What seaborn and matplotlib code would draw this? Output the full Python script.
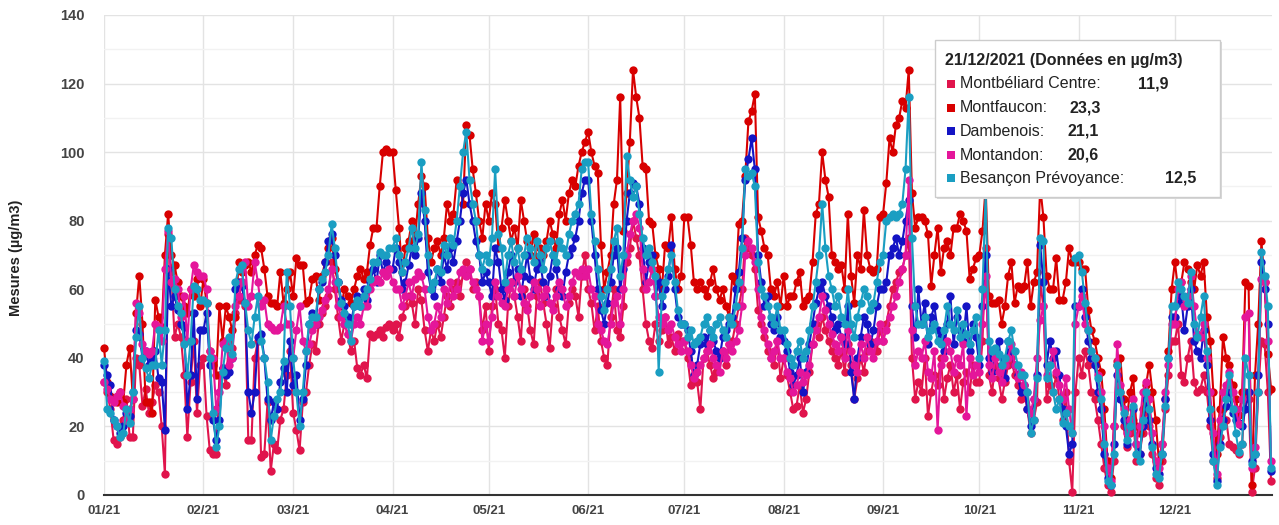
import matplotlib
matplotlib.use("Agg")
import matplotlib.pyplot as plt
import matplotlib.dates as mdates
from matplotlib.patches import Rectangle
from matplotlib.ticker import MultipleLocator
import pandas as pd
import seaborn as sns

# ---------------- data (daily means, µg/m3, 2021) ----------------
stations = ["Montbéliard Centre", "Montfaucon", "Dambenois", "Montandon", "Besançon Prévoyance"]
colors = ["#E0144C", "#D80000", "#1414C4", "#E4169A", "#1A9EC2"]
legend_date = "21/12/2021 (Données en µg/m3)"
legend_values = ["11,9", "23,3", "21,1", "20,6", "12,5"]
tick_labels_fmt = "%m/%y"

montbeliard = (
    [33,30,25,16,15,17,22,28,17,17,40,38,26,31,24,27,32,30,20,6,76,65,46,50,46,35,17,33,45,24,38]
    + [40,23,13,12,12,35,37,32,45,43,53,57,62,55,16,16,40,45,11,12,27,7,15,13,22,25,35,42]
    + [24,19,13,27,30,38,44,42,50,53,55,58,68,60,52,45,50,47,42,45,37,35,38,34,47,46,47,48,46,49,50]
    + [48,50,46,52,55,58,56,50,60,57,48,42,48,45,50,46,52,58,55,60,62,58,65,68,66,60,62,58,48,55]
    + [42,55,60,50,48,40,55,62,58,52,45,60,55,48,44,58,62,56,50,43,55,60,52,48,44,56,60,58,52,64,70]
    + [60,56,48,55,45,40,38,52,60,48,46,55,68,72,80,75,70,60,50,45,43,50,45,48,52,44,46,42,47,45]
    + [45,40,32,35,33,25,40,42,38,34,36,40,42,38,44,45,50,55,60,75,72,70,66,54,50,46,42,40,38,45,34]
    + [40,35,30,25,26,32,24,28,36,44,50,46,52,48,45,42,40,38,42,36,44,38,28,34,40,36,42,45,44,42,48]
    + [45,50,55,60,62,65,66,70,75,40,28,33,30,40,23,30,35,32,40,28,34,38,30,35,25,33,36,30,38,33]
    + [33,45,72,35,30,38,34,28,33,38,40,35,32,28,30,25,18,22,27,62,55,28,32,30,35,28,22,30,10,1,30]
    + [40,35,42,38,30,28,22,15,8,3,1,10,39,30,20,14,18,22,10,12,18,25,20,12,5,3,10,25,35,45]
    + [45,50,35,33,40,45,33,30,31,35,30,20,10,5,17,25,22,15,14,13,11.9,15,30,28,1,8,30,45,44,30,4]
)
montfaucon = (
    [43,33,29,28,27,30,27,38,43,28,53,64,50,27,27,24,57,52,49,70,82,70,67,62,58,55,53,60,58,63,55]
    + [63,56,42,38,35,55,45,55,52,48,52,68,65,67,68,65,70,73,72,66,58,56,56,55,65,56,60,65]
    + [58,69,67,67,56,57,63,64,57,64,68,72,75,66,62,55,60,58,56,60,64,66,63,65,73,78,78,90,100,101,100]
    + [100,89,78,65,72,74,80,75,85,93,90,75,68,72,74,70,75,85,80,82,92,90,85,108,105,95,88,80,75,85]
    + [80,88,85,72,78,86,80,74,78,72,86,80,74,70,76,68,72,70,74,80,76,72,82,86,80,88,92,90,96,100,103]
    + [106,100,96,94,73,60,65,70,85,92,116,77,88,103,124,116,110,96,95,80,79,70,66,60,73,72,81,66,60,64]
    + [81,81,73,62,60,62,60,58,62,66,60,57,60,55,52,64,62,79,80,93,109,112,117,81,77,72,70,60,58,62,55]
    + [64,55,58,58,62,65,55,57,58,68,82,85,100,92,87,70,68,66,67,60,82,64,56,70,66,83,70,66,65,66,81]
    + [82,91,104,100,108,110,115,113,124,88,78,81,81,80,76,61,70,78,65,72,74,70,78,78,82,80,77,63,66,69]
    + [70,77,90,58,56,56,57,50,55,64,68,56,61,60,61,68,55,62,65,90,81,64,60,60,69,57,57,62,72,68,68]
    + [68,66,66,54,48,45,40,36,25,10,5,20,38,40,28,22,30,34,20,18,25,32,38,30,22,10,15,28,42,60]
    + [68,60,62,68,66,62,60,67,64,68,52,45,30,12,25,46,40,38,32,28,23.3,30,62,61,3,35,50,74,62,41,31]
)
dambenois = (
    [38,35,32,22,20,18,20,24,23,30,48,47,40,42,38,40,42,34,33,19,66,55,58,54,50,49,25,35,53,28,48]
    + [48,53,38,22,16,22,37,35,36,40,60,62,61,56,30,24,30,46,47,40,28,22,27,25,33,37,30,45]
    + [32,35,22,28,38,50,53,50,60,62,68,74,76,70,62,57,55,52,50,55,58,55,60,57,62,66,62,70,65,68,66]
    + [66,72,68,60,62,67,72,70,75,88,80,65,60,58,66,62,70,66,72,68,74,80,88,92,85,80,74,70,62,65]
    + [62,58,72,68,60,57,65,70,62,66,58,64,70,63,60,66,68,62,58,64,70,66,60,58,65,70,72,75,80,88,92]
    + [92,80,70,60,54,50,56,62,70,72,60,66,80,88,91,90,85,72,62,68,70,58,62,55,60,64,73,60,52,50]
    + [50,48,42,35,38,44,46,44,48,45,42,40,46,48,50,52,60,65,75,92,98,104,95,70,62,55,58,50,48,52,46]
    + [45,42,36,32,35,40,30,36,44,50,56,60,62,58,55,52,48,50,46,44,55,36,28,40,46,52,50,44,48,55,60]
    + [60,62,70,72,75,70,74,80,86,55,46,60,50,56,44,52,55,48,46,42,50,58,44,52,48,45,55,42,50,46]
    + [38,55,70,40,36,42,45,38,34,45,42,38,35,30,32,25,20,28,35,73,62,38,45,40,42,35,25,20,12,15,55]
    + [55,60,52,45,40,38,30,25,12,5,3,15,35,28,22,15,20,25,15,12,20,28,22,15,8,6,12,28,40,52]
    + [52,56,58,48,55,60,45,42,40,48,38,22,12,4,15,22,26,30,24,22,21.1,20,25,30,10,12,35,68,60,50,7]
)
montandon = (
    [33,31,28,27,29,30,26,22,25,28,56,53,44,42,41,42,50,49,45,66,77,62,63,60,52,58,45,60,67,65,64]
    + [64,60,42,40,25,30,44,45,38,40,55,58,62,68,55,58,68,62,55,57,50,49,48,48,49,55,50,50]
    + [40,48,55,45,42,44,48,50,52,54,57,60,66,62,55,52,50,47,45,50,52,50,55,55,60,62,63,62,65,64,66]
    + [62,60,60,55,58,62,58,63,65,64,60,52,48,50,55,52,60,56,62,58,60,65,66,64,66,62,60,58,45,50]
    + [45,52,62,58,56,55,60,62,58,64,60,56,54,58,62,60,55,58,60,56,54,58,62,60,55,58,62,65,64,66,64]
    + [66,60,58,50,48,45,44,50,56,58,50,60,70,76,80,82,78,66,60,62,66,58,52,50,52,48,50,46,44,42]
    + [45,42,38,34,36,38,40,42,44,40,38,36,42,40,44,42,45,48,55,70,74,72,68,60,52,48,44,40,42,45,40]
    + [40,36,34,30,32,36,33,35,38,44,48,52,58,54,50,47,44,42,46,40,48,42,38,36,44,40,46,42,40,45,50]
    + [45,48,52,55,58,62,66,70,92,48,38,42,40,45,36,34,42,19,38,40,45,42,36,40,38,44,23,40,35,38]
    + [36,50,64,38,34,40,36,33,38,40,44,38,34,36,32,30,24,28,40,51,55,35,38,42,36,32,28,34,25,18,50]
    + [55,58,50,48,42,40,35,30,20,8,4,20,44,32,25,18,22,28,15,20,30,33,28,18,10,8,15,30,38,50]
    + [50,60,62,55,58,64,55,47,46,50,40,30,18,6,22,30,32,36,30,25,20.6,28,52,53,8,14,30,63,62,45,10]
)
besancon = (
    [39,25,24,22,20,17,18,25,21,30,46,55,40,37,34,38,38,48,38,48,78,75,60,55,53,44,35,45,61,60,57]
    + [57,56,40,24,14,20,36,43,46,41,62,66,67,56,48,44,52,58,45,40,33,16,23,28,30,39,65,55]
    + [40,30,20,30,42,50,52,52,60,63,65,70,79,72,62,56,53,50,45,55,57,55,58,60,63,68,68,71,70,70,72]
    + [72,75,70,65,68,72,78,72,76,97,83,70,60,62,66,65,73,70,75,73,80,90,100,106,92,85,80,70,66,70]
    + [68,75,95,76,72,62,70,74,68,72,66,70,75,72,68,74,70,66,72,74,70,68,74,72,70,76,80,82,85,95,97]
    + [97,82,74,66,58,54,60,66,74,78,64,70,99,92,87,90,82,75,70,72,68,64,36,58,62,66,70,62,54,50]
    + [50,46,48,44,45,46,50,52,48,46,50,52,48,46,52,50,55,62,72,95,93,94,90,68,60,58,55,52,50,55,48]
    + [48,44,40,38,42,45,40,42,48,55,62,70,85,72,64,60,55,58,52,50,60,50,46,52,56,60,58,54,56,62,68]
    + [70,80,81,82,81,82,85,95,116,75,55,50,50,52,46,48,50,45,44,48,55,50,48,54,46,50,47,44,48,52]
    + [40,60,88,45,42,43,41,38,40,45,48,42,38,35,35,30,18,22,34,75,74,34,38,30,25,28,21,24,20,18,69]
    + [70,65,56,48,42,40,34,28,15,4,3,12,38,30,24,16,20,26,12,10,22,30,25,14,6,5,12,26,40,55]
    + [55,62,60,58,56,65,50,46,52,58,42,25,10,3,14,20,28,35,25,18,12.5,15,40,35,9,12,30,71,64,55,8]
)

dates = pd.date_range("2021-01-01", "2021-12-31", freq="D")
series = dict(zip(stations, [montbeliard, montfaucon, dambenois, montandon, besancon]))
frames = []
for name, vals in series.items():
    assert len(vals) == len(dates), (name, len(vals))
    frames.append(pd.DataFrame({"date": dates, "value": vals, "station": name}))
df = pd.concat(frames, ignore_index=True)

# ---------------- style ----------------
sns.set_style("white")
plt.rcParams["font.family"] = ["Liberation Sans", "DejaVu Sans"]

W, H = 1279, 525
fig = plt.figure(figsize=(W / 100, H / 100), dpi=100)
left, right, top, bottom = 104, 1272, 15, 495
ax = fig.add_axes([left / W, 1 - bottom / H, (right - left) / W, (bottom - top) / H])

sns.lineplot(
    data=df, x="date", y="value", hue="station", hue_order=stations,
    palette=dict(zip(stations, colors)), estimator=None, marker="o",
    markersize=6, markeredgewidth=0, linewidth=1.5, legend=False,
    ax=ax, clip_on=False, zorder=3,
)

ax.set_ylim(0, 140)
ax.set_xlim(mdates.date2num(pd.Timestamp("2021-01-01")),
            mdates.date2num(pd.Timestamp("2021-12-31")) + 0.3)
ax.yaxis.set_major_locator(MultipleLocator(20))
ax.yaxis.set_minor_locator(MultipleLocator(10))
ax.xaxis.set_major_locator(mdates.MonthLocator())
ax.xaxis.set_major_formatter(mdates.DateFormatter(tick_labels_fmt))

ax.grid(which="major", axis="y", color="#e3e3e3", lw=1, zorder=0)
ax.grid(which="minor", axis="y", color="#f2f2f2", lw=1, zorder=0)
ax.grid(which="major", axis="x", color="#e3e3e3", lw=1, zorder=0)
ax.set_axisbelow(True)

for s in ["top", "right", "left"]:
    ax.spines[s].set_visible(False)
ax.spines["bottom"].set_color("#333333")
ax.spines["bottom"].set_linewidth(1.5)
ax.spines["bottom"].set_zorder(2)

ax.tick_params(axis="y", which="both", length=0, pad=14, labelsize=10.5, labelcolor="#444444")
ax.tick_params(axis="x", which="both", length=0, pad=7, labelsize=9.5, labelcolor="#444444")
for lbl in ax.get_xticklabels() + ax.get_yticklabels():
    lbl.set_fontweight("bold")
ax.set_xlabel("")
ax.set_ylabel("")
fig.text(16 / W, 1 - 258 / H, "Mesures (µg/m3)", rotation=90, ha="center", va="center",
         fontsize=10.5, fontweight="bold", color="#222222")

# ---------------- tooltip-like legend ----------------
def fx(x):
    return x / W

def fy(y):
    return 1 - y / H

bx0, by0, bx1, by1 = 935, 40, 1220, 197
fig.add_artist(Rectangle((fx(bx0 + 2), fy(by1 + 2)), fx(bx1 - bx0), (by1 - by0) / H,
                         transform=fig.transFigure, facecolor="#d9d9d9", edgecolor="none",
                         zorder=9))
fig.add_artist(Rectangle((fx(bx0), fy(by1)), fx(bx1 - bx0), (by1 - by0) / H,
                         transform=fig.transFigure, facecolor="white", edgecolor="#cccccc",
                         lw=1, zorder=10))
fig.text(fx(945), fy(60), legend_date, fontsize=11.5, fontweight="bold", color="#222222",
         ha="left", va="center", zorder=11)
row_y = [84, 108, 131, 155, 178]
value_x = [1138, 1070, 1067, 1067, 1165]
for name, col, val, ry, vx in zip(stations, colors, legend_values, row_y, value_x):
    fig.add_artist(Rectangle((fx(947), fy(ry + 4)), 8 / W, 8 / H, transform=fig.transFigure,
                             facecolor=col, edgecolor="none", zorder=11))
    fig.text(fx(960), fy(ry), name + ":", fontsize=11.5, color="#222222",
             ha="left", va="center", zorder=11)
    fig.text(fx(vx), fy(ry), val, fontsize=11.5, fontweight="bold", color="#222222",
             ha="left", va="center", zorder=11)

fig.savefig("out.png", dpi=100)
